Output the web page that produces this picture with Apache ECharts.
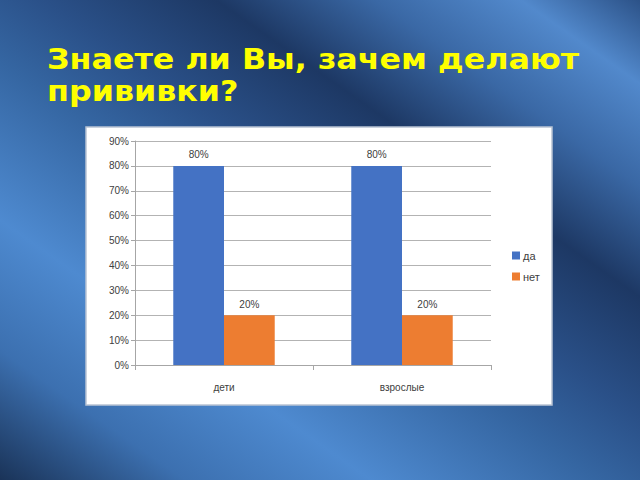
<!DOCTYPE html>
<html>
<head>
<meta charset="utf-8">
<title>Знаете ли Вы, зачем делают прививки?</title>
<script src="https://cdn.jsdelivr.net/npm/echarts@6/dist/echarts.min.js"></script>
<style>
	html, body { margin:0; padding:0; }
	body {
		width:640px; height:480px; overflow:hidden;
		background: linear-gradient(215deg, #2c5288 0%, #5289cc 9%, #3a68a5 20%, #1d3864 32%, #2a5088 45%, #3566a2 55%, #4e8ad0 72%, #3c70b0 86%, #1a3358 100%);
	}
	#main { width:640px; height:480px; }
</style>
</head>
<body>
<div id="main"></div>
<script>
	// данные диаграммы
	var categories = ['дети', 'взрослые'];
	var yesValues = [80, 80];
	var noValues = [20, 20];
	var seriesNames = ['да', 'нет'];
	var yMax = 90;
	var yStep = 10;
	var titleText = 'Знаете ли Вы, зачем делают\nпрививки?';

	var chart = echarts.init(document.getElementById('main'), null, {renderer: 'svg'});

	var labelStyle = {
		show: true,
		position: 'top',
		distance: 6,
		color: '#404040',
		fontSize: 10,
		fontFamily: 'Liberation Sans',
		formatter: '{c}%'
	};

	chart.setOption({
		backgroundColor: 'transparent',
		animation: false,
		graphic: [{
			type: 'rect',
			z: -10,
			shape: {x: 86, y: 127, width: 466, height: 278},
			style: {fill: '#ffffff', stroke: '#b9c4d3', lineWidth: 1.5}
		}, {
			// заголовок слайда
			type: 'text',
			x: 47,
			y: 43,
			scaleX: 1.095,
			style: {
				text: titleText,
				fill: '#ffff00',
				fontSize: 29,
				fontWeight: 'bold',
				fontFamily: 'DejaVu Sans',
				lineHeight: 32,
				textVerticalAlign: 'top'
			}
		}],
		legend: {
			orient: 'vertical',
			left: 507,
			top: 245,
			icon: 'rect',
			itemWidth: 8,
			itemHeight: 8,
			itemGap: 10,
			data: seriesNames,
			textStyle: {color: '#404040', fontSize: 11, fontFamily: 'Liberation Sans', padding: [0, 0, 0, -2]}
		},
		grid: {
			left: 135,
			right: 149,
			top: 141,
			bottom: 115
		},
		xAxis: {
			type: 'category',
			data: categories,
			axisLine: {lineStyle: {color: '#a6a6a6'}},
			axisTick: {show: true, length: 5, lineStyle: {color: '#a6a6a6'}},
			axisLabel: {color: '#404040', fontSize: 10, fontFamily: 'Liberation Sans', margin: 17}
		},
		yAxis: {
			type: 'value',
			min: 0,
			max: yMax,
			interval: yStep,
			axisLine: {show: true, lineStyle: {color: '#a6a6a6'}},
			axisTick: {show: true, length: 4, lineStyle: {color: '#a6a6a6'}},
			axisLabel: {color: '#404040', fontSize: 10, fontFamily: 'Liberation Sans', margin: 6, formatter: '{value}%'},
			splitLine: {lineStyle: {color: '#b3b3b3'}}
		},
		series: [
			{
				name: seriesNames[0],
				type: 'bar',
				data: yesValues,
				barGap: '0%',
				barCategoryGap: '43%',
				itemStyle: {color: '#4472c4'},
				label: labelStyle
			},
			{
				name: seriesNames[1],
				type: 'bar',
				data: noValues,
				itemStyle: {color: '#ed7d31'},
				label: labelStyle
			}
		]
	});

	window.onresize = function(){
		chart.resize();
	}
</script>
</body>
</html>
